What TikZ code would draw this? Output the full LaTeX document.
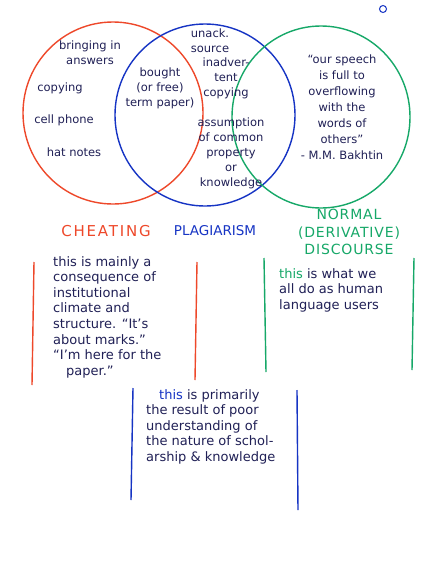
\documentclass[tikz,border=0pt]{standalone}
\usepackage{fontspec}
\setmainfont{DejaVu Sans}
\usetikzlibrary{positioning}
\definecolor{penred}{RGB}{238,72,42}
\definecolor{penblue}{RGB}{22,52,196}
\definecolor{pengreen}{RGB}{22,168,104}
\definecolor{ink}{RGB}{32,32,86}
\tikzset{
  pen/.style={line width=1.4pt},
  note/.style={text=ink, font=\fontsize{11.5}{15}\selectfont, align=center, inner sep=0pt},
  boxnote/.style={note, font=\fontsize{13}{15.6}\selectfont, align=left},
  title/.style={font=\fontsize{14}{17.5}\selectfont\addfontfeature{LetterSpace=6}, inner sep=0pt, align=center},
}
\begin{document}
\begin{tikzpicture}[x=1pt,y=-1pt]
    \useasboundingbox[fill=white] (0,0) rectangle (434,562);
    \draw[pen, color=penred] (113,113) ellipse (90 and 91);
    \draw[pen, color=penblue] (205,115) ellipse (90 and 91);
    \draw[pen, color=pengreen] (321,117) ellipse (89 and 91);
    \draw[line width=1pt, color=penblue] (383,9) circle (3.5);

    \node[note] (answers) at (90,53) {bringing in\\answers};
    \node[note] (copying) at (60,88) {copying};
    \node[note] (phone) at (64,120) {cell phone};
    \node[note] (hatnotes) at (74,152) {hat notes};
    \node[note] (bought) at (160,88) {bought\\(or free)\\term paper)};
    \node[note] (unack) at (210,41) {unack.\\source};
    \node[note] (inadvertent) at (226,78) {inadver-\\tent\\copying};
    \node[note] (common) at (231,153) {assumption\\of common\\property\\or\\knowledge};
    \node[note, font=\fontsize{11.5}{16}\selectfont] (bakhtin) at (342,107) {“our speech\\is full to\\overflowing\\with the\\words of\\others”\\- M.M. Bakhtin};

    \node[title, text=penred, font=\fontsize{15}{17}\selectfont\addfontfeature{LetterSpace=12}] (cheating) at (106,231) {CHEATING};
    \node[title, text=penblue, font=\fontsize{13.5}{17}\selectfont] (plagiarism) at (215,231) {PLAGIARISM};
    \node[title, text=pengreen] (normal) at (349,232) {NORMAL\\(DERIVATIVE)\\DISCOURSE};

    \draw[pen, color=penred] (34,262) -- (32,385);
    \draw[pen, color=penred] (197,262) -- (195,380);
    \node[boxnote, anchor=north west] (mainly) at (53,256) {this is mainly a\\consequence of\\institutional\\climate and\\structure. “It's\\about marks.”\\“I'm here for the\\\hspace*{1em}paper.”};

    \draw[pen, color=pengreen] (264,258) -- (266,372);
    \draw[pen, color=pengreen] (414,258) -- (412,370);
    \node[boxnote, anchor=north west] (users) at (279,268) {\textcolor{pengreen}{this} is what we\\all do as human\\language users};

    \draw[pen, color=penblue] (133,388) -- (131,500);
    \draw[pen, color=penblue] (297,390) -- (298,510);
    \node[boxnote, anchor=north west] (primarily) at (146,389) {\hspace*{1em}\textcolor{penblue}{this} is primarily\\the result of poor\\understanding of\\the nature of schol-\\arship \& knowledge};
\end{tikzpicture}
\end{document}
